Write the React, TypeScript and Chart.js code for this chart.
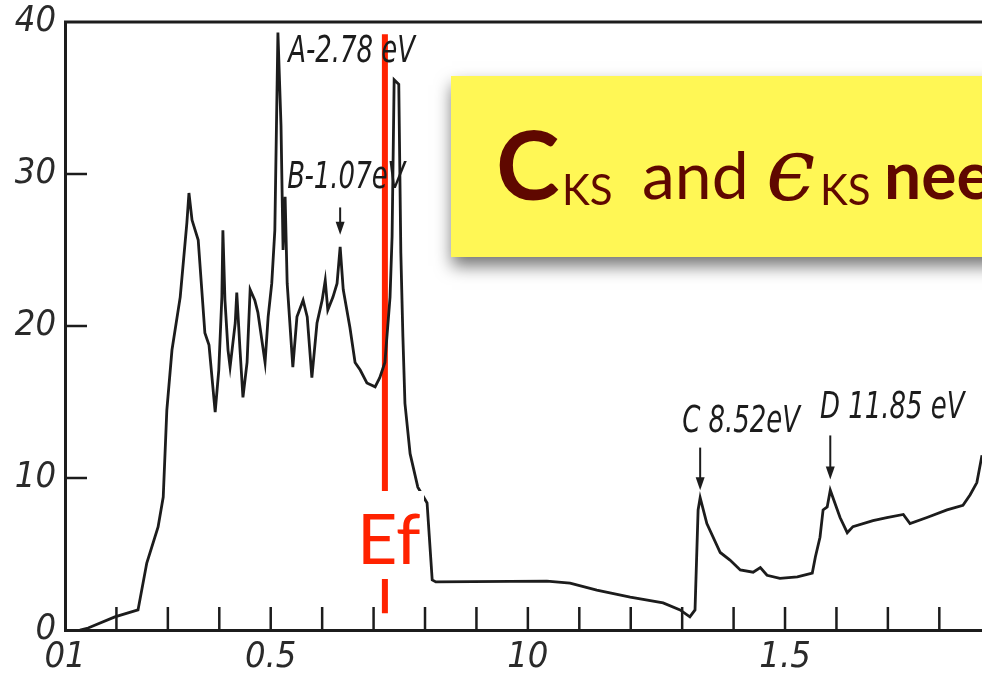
import React, { useEffect, useRef } from "react";
import { Chart, registerables } from "chart.js";

Chart.register(...registerables);

// Energy axis (scaled units as printed on the original figure)
const energy = [
  0.129, 0.145, 0.197, 0.242, 0.259, 0.281, 0.291, 0.298, 0.308, 0.324,
  0.337, 0.341, 0.347, 0.359, 0.372, 0.38, 0.392, 0.399, 0.405, 0.407,
  0.411, 0.417, 0.421, 0.431, 0.434, 0.44, 0.446, 0.454, 0.46, 0.469,
  0.475, 0.489, 0.495, 0.502, 0.508, 0.514, 0.52, 0.524, 0.528, 0.532,
  0.543, 0.551, 0.563, 0.571, 0.58, 0.59, 0.6, 0.606, 0.611, 0.621,
  0.629, 0.635, 0.641, 0.654, 0.664, 0.674, 0.687, 0.703, 0.712, 0.722,
  0.732, 0.736, 0.74, 0.749, 0.753, 0.757, 0.761, 0.771, 0.786, 0.804,
  0.814, 0.821, 1.037, 1.082, 1.134, 1.199, 1.263, 1.296, 1.315, 1.325,
  1.331, 1.335, 1.348, 1.374, 1.393, 1.413, 1.438, 1.452, 1.465, 1.49,
  1.524, 1.553, 1.559, 1.568, 1.574, 1.582, 1.588, 1.607, 1.621, 1.632,
  1.671, 1.698, 1.73, 1.743, 1.776, 1.815, 1.846, 1.86, 1.873, 1.883,
];

const density = [
  0, 0.13, 0.86, 1.32, 4.41, 6.78, 8.75, 14.47, 18.42, 21.9,
  26.8, 28.75, 26.97, 25.66, 19.54, 18.75, 14.34, 17.1, 21.9, 26.3,
  21.7, 18.4, 17.3, 20.2, 22.2, 18.6, 15.3, 17.6, 22.4, 21.7,
  20.9, 17.6, 20.6, 22.8, 26.3, 39.3, 33.2, 25.0, 28.5, 22.8,
  17.3, 20.6, 21.7, 20.6, 16.6, 20.2, 21.7, 23.0, 21.05, 21.9,
  22.8, 25.2, 22.4, 19.9, 17.6, 17.1, 16.25, 16.0, 16.6, 17.6,
  21.9, 25.9, 36.2, 35.9, 24.8, 19.3, 14.9, 11.6, 9.4, 8.36,
  3.29, 3.16, 3.22, 3.09, 2.63, 2.17, 1.78, 1.32, 0.86, 1.32,
  7.9, 8.7, 7.0, 5.1, 4.6, 3.95, 3.8, 4.1, 3.6, 3.4,
  3.5, 3.75, 4.8, 6.1, 7.9, 8.1, 9.2, 7.4, 6.4, 6.8,
  7.2, 7.4, 7.6, 7.0, 7.4, 7.9, 8.2, 8.9, 9.7, 11.5,
];

const xTickValues = [0.1, 0.2, 0.3, 0.4, 0.5, 0.6, 0.7, 0.8, 0.9, 1.0, 1.1, 1.2, 1.3, 1.4, 1.5, 1.6, 1.7, 1.8];
const xTickLabels = ["01", "", "", "", "0.5", "", "", "", "", "10", "", "", "", "", "1.5", "", "", ""];
const yTickValues = [0, 10, 20, 30, 40];
const yTickLabels = ["0", "10", "20", "30", "40"];

const fermiLevel = 0.722;
const fermiSpan = [1.1, 39.2];

// Peak annotations: label, text x, text baseline y, arrow x, arrow top, arrow bottom
const peakLabels = ["A-2.78 eV", "B-1.07eV", "C 8.52eV", "D 11.85 eV"];
const peakTextX = [0.534, 0.532, 1.3, 1.568];
const peakTextY = [37.4, 29.1, 13.0, 13.95];
const arrowX = [null, 0.635, 1.335, 1.588];
const arrowTop = [null, 27.8, 12.0, 12.8];
const arrowBottom = [null, 26.0, 9.2, 9.9];

const NARROW = "'Liberation Sans Narrow','DejaVu Sans Condensed','Roboto Condensed','DejaVu Sans',sans-serif";

const zeroPadding = (s: any) => {
  s.paddingTop = 0;
  s.paddingBottom = 0;
  s.paddingLeft = 0;
  s.paddingRight = 0;
};

const overlay = {
  id: "overlay",
  afterDatasetsDraw(chart: any) {
    const { ctx, chartArea } = chart;
    const xs = chart.scales.x;
    const ys = chart.scales.y;
    const ink = "#1c1c1c";
    ctx.save();
    // top frame line
    ctx.strokeStyle = ink;
    ctx.lineWidth = 3;
    ctx.beginPath();
    ctx.moveTo(chartArea.left - 1, chartArea.top);
    ctx.lineTo(chartArea.right, chartArea.top);
    ctx.stroke();
    // inward ticks
    ctx.lineWidth = 2.5;
    xTickValues.forEach((v, i) => {
      if (i === 0) return;
      const px = xs.getPixelForValue(v);
      ctx.beginPath();
      ctx.moveTo(px, chartArea.bottom);
      ctx.lineTo(px, chartArea.bottom - 23);
      ctx.stroke();
    });
    yTickValues.forEach((v, i) => {
      if (i === 0 || i === yTickValues.length - 1) return;
      const py = ys.getPixelForValue(v);
      ctx.beginPath();
      ctx.moveTo(chartArea.left, py);
      ctx.lineTo(chartArea.left + 22, py);
      ctx.stroke();
    });
    // arrows
    ctx.fillStyle = ink;
    ctx.lineWidth = 2;
    arrowX.forEach((ax, i) => {
      if (ax == null) return;
      const px = xs.getPixelForValue(ax);
      const t = ys.getPixelForValue(arrowTop[i] as number);
      const b = ys.getPixelForValue(arrowBottom[i] as number);
      ctx.beginPath();
      ctx.moveTo(px, t);
      ctx.lineTo(px, b - 10);
      ctx.stroke();
      ctx.beginPath();
      ctx.moveTo(px - 4.5, b - 13);
      ctx.lineTo(px + 4.5, b - 13);
      ctx.lineTo(px, b);
      ctx.closePath();
      ctx.fill();
    });
    // peak labels (condensed italic lettering)
    ctx.font = `italic 37px ${NARROW}`;
    ctx.textBaseline = "alphabetic";
    ctx.textAlign = "left";
    peakLabels.forEach((s, i) => {
      ctx.save();
      ctx.translate(xs.getPixelForValue(peakTextX[i]), ys.getPixelForValue(peakTextY[i]));
      ctx.scale(0.78, 1);
      ctx.fillText(s, 0, 0);
      ctx.restore();
    });
    // Ef label box
    ctx.fillStyle = "#ffffff";
    ctx.fillRect(352, 491, 72, 88);
    ctx.fillStyle = "#ff2200";
    ctx.font = "70px Lato, 'Open Sans', sans-serif";
    ctx.fillText("Ef", 357, 564);
    // yellow note
    ctx.save();
    ctx.shadowColor = "rgba(0,0,0,0.55)";
    ctx.shadowBlur = 16;
    ctx.shadowOffsetX = 1;
    ctx.shadowOffsetY = 9;
    ctx.fillStyle = "#fff755";
    ctx.fillRect(451, 76, 620, 181);
    ctx.restore();
    const maroon = "#5f0800";
    ctx.fillStyle = maroon;
    ctx.font = "bold 96px Lato, sans-serif";
    ctx.fillText("C", 496, 200);
    ctx.font = "42px Lato, sans-serif";
    ctx.fillText("KS", 562, 205);
    ctx.font = "66px Lato, sans-serif";
    ctx.fillText("and", 642, 199);
    ctx.font = "italic 88px 'DejaVu Serif', serif";
    ctx.fillText("\u03f5", 766, 200);
    ctx.font = "42px Lato, sans-serif";
    ctx.fillText("KS", 820, 205);
    ctx.font = "bold 66px Lato, sans-serif";
    ctx.fillText("need", 884, 199);
    ctx.restore();
  },
};

export default function App() {
  const ref = useRef<HTMLCanvasElement | null>(null);
  useEffect(() => {
    const canvas = ref.current;
    if (!canvas) return;
    const chart = new Chart(canvas, {
      type: "line",
      data: {
        datasets: [
          {
            data: energy.map((x, i) => ({ x, y: density[i] })),
            borderColor: "#1c1c1c",
            borderWidth: 2.8,
            pointRadius: 0,
            tension: 0,
            fill: false,
          },
          {
            data: fermiSpan.map((y) => ({ x: fermiLevel, y })),
            borderColor: "#ff2200",
            borderWidth: 6,
            pointRadius: 0,
            fill: false,
          },
        ],
      },
      options: {
        animation: false,
        responsive: false,
        devicePixelRatio: 1,
        layout: { padding: { top: 22, left: 0, right: 0, bottom: 0 } },
        plugins: { legend: { display: false }, tooltip: { enabled: false } },
        scales: {
          x: {
            type: "linear",
            min: 0.1,
            max: 1.883,
            afterBuildTicks: (s: any) => {
              s.ticks = xTickValues.map((value) => ({ value }));
            },
            afterFit: (s: any) => {
              s.height = 48;
              zeroPadding(s);
            },
            grid: { display: false, drawTicks: false },
            border: { display: true, color: "#1c1c1c", width: 3 },
            ticks: {
              autoSkip: false,
              maxRotation: 0,
              padding: 6,
              color: "#2a2a2a",
              font: { family: NARROW, size: 36, style: "italic" },
              callback: (_v: any, i: number) => xTickLabels[i],
            },
          },
          y: {
            min: 0,
            max: 40,
            afterBuildTicks: (s: any) => {
              s.ticks = yTickValues.map((value) => ({ value }));
            },
            afterFit: (s: any) => {
              s.width = 65;
              zeroPadding(s);
            },
            grid: { display: false, drawTicks: false },
            border: { display: true, color: "#1c1c1c", width: 3 },
            ticks: {
              padding: 9,
              color: "#2a2a2a",
              font: { family: NARROW, size: 36, style: "italic" },
              callback: (_v: any, i: number) => yTickLabels[i],
            },
          },
        },
      },
      plugins: [overlay],
    });
    return () => chart.destroy();
  }, []);
  return (
    <div style={{ position: "fixed", left: 0, top: 0, width: 982, height: 678, background: "#fff" }}>
      <canvas ref={ref} width={982} height={678} style={{ display: "block" }} />
    </div>
  );
}
